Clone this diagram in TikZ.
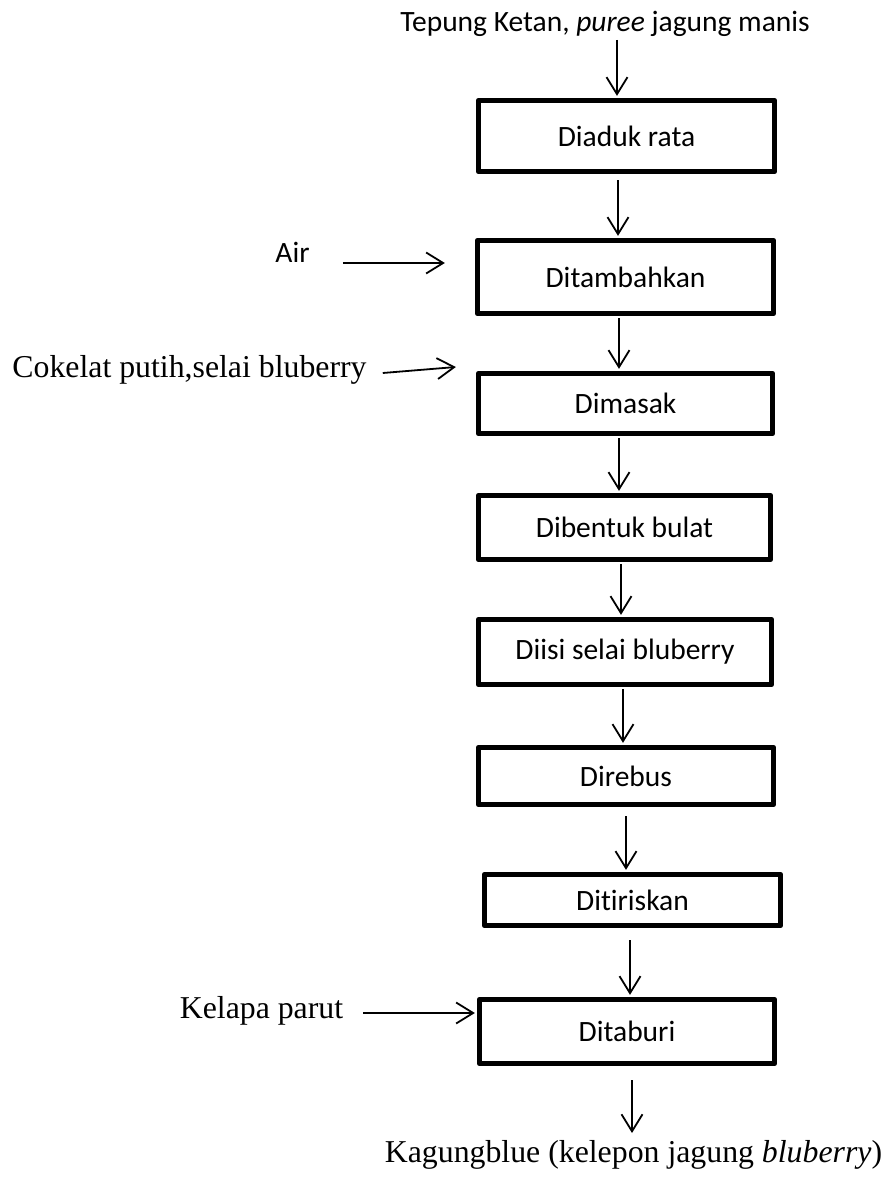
\documentclass[tikz,border=0pt]{standalone}
\usepackage{fontspec}
\setmainfont{Liberation Serif}
\newfontfamily\calibri{Carlito}[Ligatures=NoCommon]
\usetikzlibrary{arrows.meta}
\begin{document}
\begin{tikzpicture}[x=1pt,y=-1pt,
  stepbox/.style={draw, line width=4.8pt, line join=round, inner sep=0pt,
    font=\calibri\fontsize{29.5}{34}\selectfont},
  flow/.style={line width=1.8pt, -{Straight Barb[length=17pt,width=21pt]}},
  seriflbl/.style={inner sep=0pt, anchor=base, font=\fontsize{31.8}{36}\selectfont},
  sanslbl/.style={inner sep=0pt, anchor=base, font=\calibri\fontsize{29.5}{34}\selectfont}]
\useasboundingbox (0,0) rectangle (893,1180);

% process steps
\node[stepbox, minimum width=296.5pt, minimum height=71.5pt] (b1) at (626.5,136)  {Diaduk rata};
\node[stepbox, minimum width=296.5pt, minimum height=73.5pt] (b2) at (625.5,277)  {Ditambahkan};
\node[stepbox, minimum width=294.5pt, minimum height=60.5pt] (b3) at (625.5,403.5) {Dimasak};
\node[stepbox, minimum width=292.5pt, minimum height=64.5pt] (b4) at (624.5,527.5) {Dibentuk bulat};
\node[stepbox, minimum width=293.5pt, minimum height=65.5pt] (b5) at (625,652)    {Diisi selai bluberry};
\node[stepbox, minimum width=295.5pt, minimum height=57.5pt] (b6) at (626,776)    {Direbus};
\node[stepbox, minimum width=296.5pt, minimum height=51.5pt] (b7) at (632.5,900)  {Ditiriskan};
\node[stepbox, minimum width=295.5pt, minimum height=64.5pt] (b8) at (627,1031.5) {Ditaburi};

% inputs and output
\node[sanslbl]  (top) at (605,32)     {Tepung Ketan, \textit{puree} jagung manis};
\node[sanslbl]  (air) at (292.5,262)  {Air};
\node[seriflbl] (cok) at (189.5,377)  {Cokelat putih,selai bluberry};
\node[seriflbl] (kel) at (261.5,1018) {Kelapa parut};
\node[seriflbl] (out) at (633.5,1162) {Kagungblue (kelepon jagung \textit{bluberry})};

% main flow
\draw[flow] ([xshift=12pt,yshift=-8pt]top.base) -- ([xshift=-9.5pt,yshift=2pt]b1.north);
\draw[flow] ([xshift=-8.5pt,yshift=-6pt]b1.south) -- ([xshift=-7.5pt,yshift=2pt]b2.north);
\draw[flow] ([xshift=-6.5pt,yshift=-2pt]b2.south) -- ([xshift=-6.5pt,yshift=2pt]b3.north);
\draw[flow] ([xshift=-6.5pt,yshift=-2pt]b3.south) -- ([xshift=-5.5pt,yshift=2pt]b4.north);
\draw[flow] ([xshift=-3.5pt,yshift=-2pt]b4.south) -- ([xshift=-4pt,yshift=2pt]b5.north);
\draw[flow] ([xshift=-2pt,yshift=-2pt]b5.south)   -- ([xshift=-3pt,yshift=2pt]b6.north);
\draw[flow] ([yshift=-9pt]b6.south)               -- ([xshift=-6.5pt,yshift=2pt]b7.north);
\draw[flow] ([xshift=-2.5pt,yshift=-12pt]b7.south) -- ([xshift=3pt,yshift=2pt]b8.north);
\draw[flow] ([xshift=5pt,yshift=-14pt]b8.south)   -- ([xshift=-1.5pt,yshift=29pt]out.base);

% side inputs
\draw[flow] ([xshift=33pt,yshift=-1pt]air.base east) -- ([xshift=-30pt,yshift=14pt]b2.west);
\draw[flow] ([xshift=16pt,yshift=4pt]cok.base east)  -- ([xshift=-20pt,yshift=36.5pt]b3.west);
\draw[flow] ([xshift=20pt,yshift=5pt]kel.base east)  -- ([xshift=-2pt,yshift=18.5pt]b8.west);
\end{tikzpicture}
\end{document}
